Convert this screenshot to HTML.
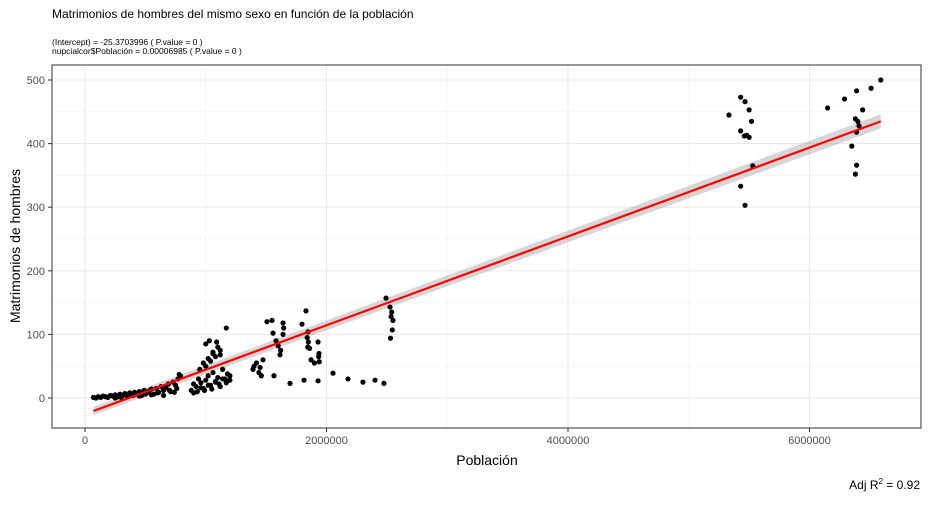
<!DOCTYPE html>
<html><head><meta charset="utf-8"><style>
body{margin:0;background:#fff;width:928px;height:500px;overflow:hidden;font-family:"Liberation Sans",sans-serif}
svg text{font-family:"Liberation Sans",sans-serif}
</style></head><body>
<svg id="chart" width="928" height="500" xmlns="http://www.w3.org/2000/svg">
<text x="52" y="18" font-size="12" fill="#000">Matrimonios de hombres del mismo sexo en función de la población</text>
<text x="52" y="45" font-size="8.5" fill="#000">(Intercept) = -25.3703996 ( P.value = 0 )</text>
<text x="52" y="54" font-size="8.5" fill="#000">nupcialcor$Población = 0.00006985 ( P.value = 0 )</text>
<g id="grid"></g><g id="band"></g><g id="pts"></g><g id="line"></g><g id="axes"></g>
<text x="487" y="465" font-size="14" text-anchor="middle" fill="#000">Población</text>
<text transform="translate(20,246) rotate(-90)" font-size="14" text-anchor="middle" fill="#000">Matrimonios de hombres</text>
<text x="920" y="489" font-size="12" text-anchor="end" fill="#000">Adj R<tspan font-size="8" dy="-5">2</tspan><tspan dy="5"> = 0.92</tspan></text>
</svg>
<script>
const xVals=[70000,90000,110000,130000,150000,170000,190000,210000,230000,250000,270000,290000,310000,330000,350000,370000,390000,410000,430000,450000,470000,490000,510000,530000,550000,570000,590000,610000,630000,650000,670000,690000,710000,730000,750000,770000,780000,790000,250000,300000,350000,400000,450000,500000,550000,600000,650000,700000,740000,760000,
880000,900000,920000,940000,960000,980000,1000000,1020000,1040000,1060000,1080000,1100000,1120000,1140000,1160000,1180000,1200000,900000,930000,960000,990000,1020000,1050000,1080000,1110000,1140000,1170000,1200000,950000,980000,1000000,1020000,1040000,1060000,1080000,1100000,1120000,1000000,1030000,1060000,1090000,1120000,1170000,
1391000,1400000,1420000,1440000,1474000,1460000,1450000,1507000,1549000,1557000,1565000,1582000,1600000,1615000,1620000,1640000,1645000,1640000,1698000,1797000,1814000,1830000,1847000,1840000,1850000,1845000,1860000,1872000,1900000,1930000,1938000,1935000,1940000,1930000,2054000,2178000,2302000,2402000,2476000,2493000,2526000,2540000,2550000,2545000,2530000,2535000,
5333000,5430000,5466000,5500000,5520000,5480000,5460000,5500000,5530000,5430000,5466000,5430000,
6150000,6290000,6390000,6510000,6590000,6440000,6380000,6410000,6390000,6350000,6390000,6380000,6400000];
const yVals=[1,0,2,1,3,2,1,4,3,5,2,6,4,7,3,8,5,9,6,10,4,12,8,11,14,6,15,9,18,12,16,22,10,25,20,30,37,35,0,1,2,4,3,6,5,8,4,12,9,15,
12,22,18,30,24,15,28,35,20,40,25,32,18,45,30,38,28,8,10,16,12,20,14,26,22,30,24,35,45,55,50,62,58,70,65,80,75,85,90,72,88,68,110,
45,50,55,40,60,35,48,120,122,102,35,90,82,68,75,100,110,118,23,116,28,137,104,95,88,80,78,60,55,88,70,65,57,27,39,30,25,28,23,157,143,135,122,107,94,128,
445,473,466,453,435,413,412,410,365,333,303,420,
456,470,483,487,500,453,439,428,418,396,366,352,435];
const xTicks=[0,2000000,4000000,6000000];
const xTickLabels=["0","2000000","4000000","6000000"];
const yTicks=[0,100,200,300,400,500];
const fitIntercept=-25.3703996, fitSlope=0.00006985;
const L=52,R=921,T=65,B=428;
const xs=v=>85+v*(241.5/2000000);
const ys=v=>398-v*0.636;
const NS="http://www.w3.org/2000/svg";
function mk(tag,attrs,parent){const e=document.createElementNS(NS,tag);for(const k in attrs)e.setAttribute(k,attrs[k]);document.getElementById(parent).appendChild(e);return e;}
for(let v=1000000;v<=7000000;v+=2000000){if(xs(v)<R){const g=mk('line',{x1:xs(v),x2:xs(v),y1:T,y2:B,stroke:'#f0f0f0','stroke-width':0.6},'grid');

}}
for(let v=50;v<=550;v+=100){if(ys(v)>T){const g=mk('line',{x1:L,x2:R,y1:ys(v),y2:ys(v),stroke:'#f0f0f0','stroke-width':0.6},'grid');

}}
xTicks.forEach((v,i)=>{const g=mk('line',{x1:xs(v),x2:xs(v),y1:T,y2:B,stroke:'#ebebeb','stroke-width':1.1},'grid');


const t=mk('line',{x1:xs(v),x2:xs(v),y1:B,y2:B+4,stroke:'#333'},'axes');


const l=mk('text',{x:xs(v),y:B+16,'font-size':11,fill:'#4d4d4d','text-anchor':'middle'},'axes');l.textContent=xTickLabels[i];

});
yTicks.forEach(v=>{const g=mk('line',{x1:L,x2:R,y1:ys(v),y2:ys(v),stroke:'#ebebeb','stroke-width':1.1},'grid');


const t=mk('line',{x1:L-4,x2:L,y1:ys(v),y2:ys(v),stroke:'#333'},'axes');


const l=mk('text',{x:L-7,y:ys(v)+4,'font-size':11,fill:'#4d4d4d','text-anchor':'end'},'axes');l.textContent=v;

});
const fr=mk('rect',{x:L,y:T,width:R-L,height:B-T,fill:'none',stroke:'#333','stroke-width':1},'axes');


const x0=Math.min(...xVals),x1=Math.max(...xVals);
const f=x=>fitIntercept+fitSlope*x;
const w0=4,w1=7;
const bp=`${xs(x0)},${ys(f(x0))-w0} ${xs(x1)},${ys(f(x1))-w1} ${xs(x1)},${ys(f(x1))+w1} ${xs(x0)},${ys(f(x0))+w0}`;
const band=mk('polygon',{points:bp,fill:'#999',opacity:0.4},'band');


xVals.forEach((x,i)=>{const c=mk('circle',{cx:xs(x),cy:ys(yVals[i]),r:2.6,fill:'#000'},'pts');

});
const ln=mk('line',{x1:xs(x0),y1:ys(f(x0)),x2:xs(x1),y2:ys(f(x1)),stroke:'#ff0000','stroke-width':2.2},'line');


</script>
</body></html>
